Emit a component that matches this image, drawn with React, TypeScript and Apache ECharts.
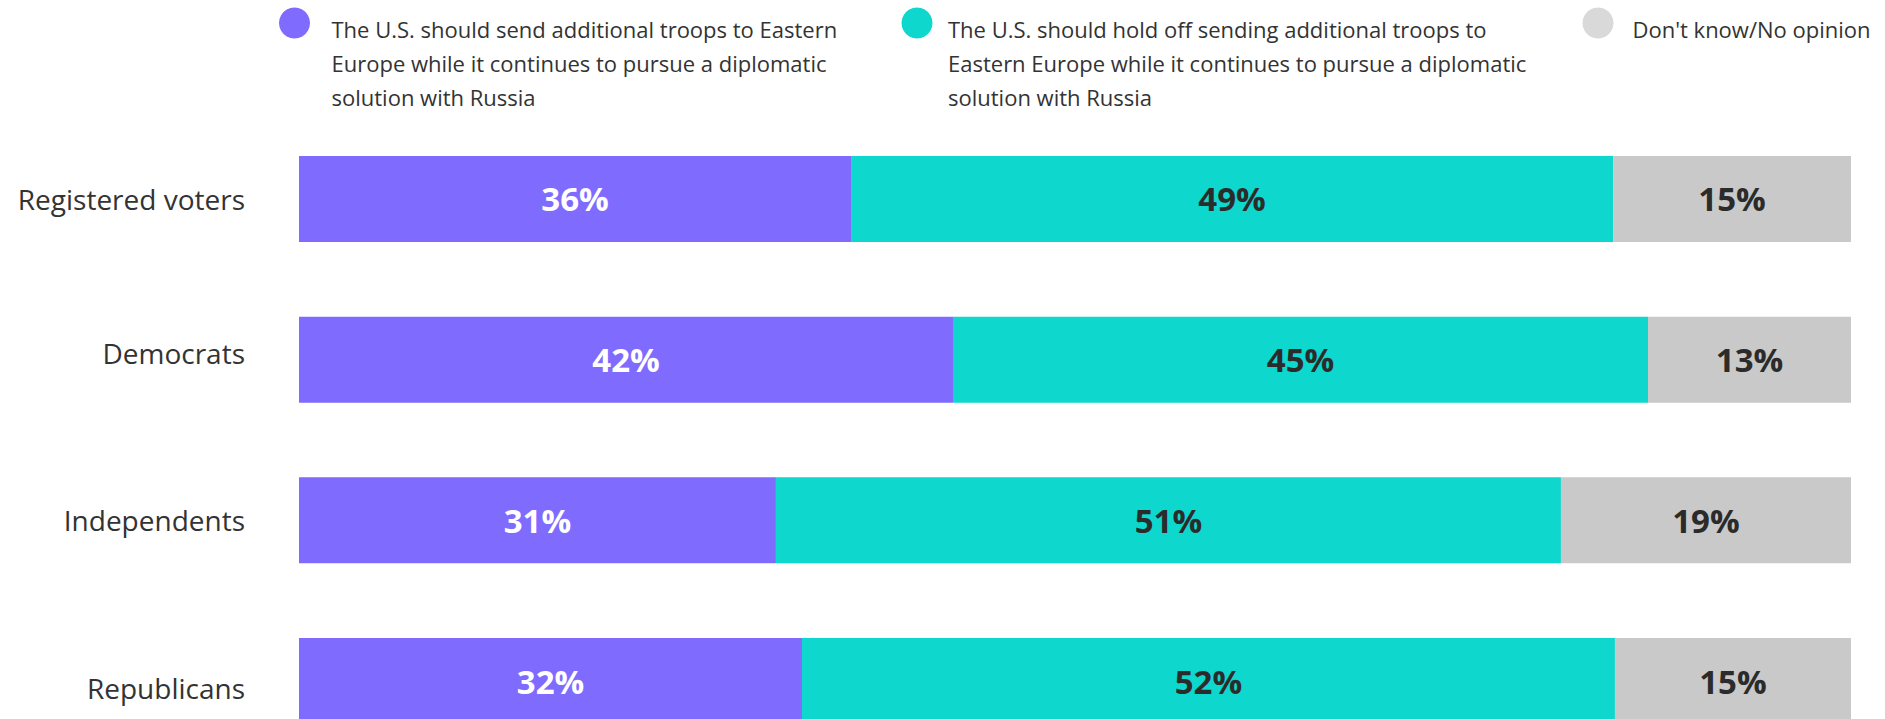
import React, { useEffect, useRef } from "react";
import * as echarts from "echarts";

const categories = ["Registered voters", "Democrats", "Independents", "Republicans"];
const seriesNames = [
  "The U.S. should send additional troops to Eastern\nEurope while it continues to pursue a diplomatic\nsolution with Russia",
  "The U.S. should hold off sending additional troops to\nEastern Europe while it continues to pursue a diplomatic\nsolution with Russia",
  "Don't know/No opinion",
];
// shares as measured from the bar lengths (labels are rounded)
const sendTroops = [35.57, 42.14, 30.73, 32.41];
const holdOff = [49.1, 44.78, 50.58, 52.38];
const dontKnow = [15.34, 13.08, 18.69, 15.21];

const colors = ["#806BFF", "#0ED7CD", "#C9C9C9"];
const legendIconColors = ["#806BFF", "#0ED7CD", "#D9D9D9"];
const labelColors = ["#FFFFFF", "#2B2B2B", "#2B2B2B"];

export default function App() {
  const ref = useRef<HTMLDivElement>(null);
  useEffect(() => {
    if (!ref.current) return;
    const chart = echarts.init(ref.current, null, { renderer: "svg" });
    const values = [sendTroops, holdOff, dontKnow];
    const font = "'Open Sans', sans-serif";
    const legendLefts = [279, 901.5, 1582.5];
    const legendPadLeft = [16.5, 10.5, 14];
    const lh = 34;
    const option: any = {
      animation: false,
      backgroundColor: "#FFFFFF",
      legend: seriesNames.map((name, i) => {
        const n = name.split("\n").length;
        const blankH = n === 1 ? 12 : 40;
        const blanks = n - 1 || 1;
        const blockH = blanks * blankH + n * lh;
        return {
          left: legendLefts[i],
          top: 23 - blockH / 2,
          padding: 0,
          orient: "horizontal",
          icon: "circle",
          itemWidth: 31,
          itemHeight: 31,
          selectedMode: false,
          data: [{ name, itemStyle: { color: legendIconColors[i] } }],
          formatter: (nm: string) => {
            const lines = nm.split("\n");
            const k = lines.length - 1 || 1;
            const pre = Array.from({ length: k }, () => "{b| }").join("\n");
            return pre + "\n" + lines.map((l) => `{t|${l}}`).join("\n");
          },
          textStyle: {
            fontFamily: font,
            fontSize: 22,
            color: "#333333",
            padding: [0, 0, 0, legendPadLeft[i]],
            rich: {
              b: { fontSize: 4, lineHeight: blankH, height: blankH },
              t: { fontFamily: font, fontSize: 22, color: "#333333", lineHeight: lh, height: lh },
            },
          },
        };
      }),
      grid: {
        left: 299,
        width: 1552,
        top: 118.6,
        height: 642.8,
        containLabel: false,
        outerBoundsMode: "none",
      },
      xAxis: { type: "value", min: 0, max: 100, show: false },
      yAxis: {
        type: "category",
        data: categories,
        inverse: true,
        axisLine: { show: false },
        axisTick: { show: false },
        splitLine: { show: false },
        axisLabel: {
          margin: 54,
          fontFamily: font,
          fontSize: 28,
          color: "#333333",
          formatter: (v: string) =>
            v === "Democrats" ? `{up|${v}}` : v === "Republicans" ? `{down|${v}}` : `{n|${v}}`,
          rich: {
            n: { fontFamily: font, fontSize: 28, color: "#333333" },
            up: { fontFamily: font, fontSize: 28, color: "#333333", padding: [0, 0, 14, 0] },
            down: { fontFamily: font, fontSize: 28, color: "#333333", padding: [14, 0, 0, 0] },
          },
        },
      },
      series: seriesNames.map((name, i) => ({
        name,
        type: "bar",
        stack: "total",
        barWidth: 86,
        data: values[i],
        itemStyle: { color: colors[i] },
        label: {
          show: true,
          position: "inside",
          formatter: (p: any) => `${Math.round(p.value)}%`,
          fontFamily: font,
          fontWeight: "bold",
          fontSize: 33,
          color: labelColors[i],
        },
      })),
    };
    chart.setOption(option);
    return () => chart.dispose();
  }, []);
  return (
    <div
      ref={ref}
      style={{ position: "fixed", left: 0, top: 0, width: 1885, height: 719, background: "#fff" }}
    />
  );
}
